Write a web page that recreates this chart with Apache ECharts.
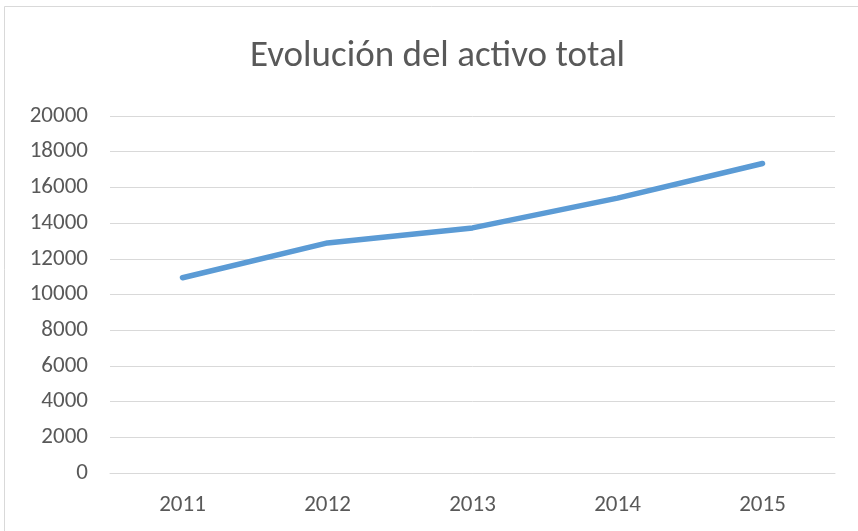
<!DOCTYPE html>
<html>
<head>
<meta charset="utf-8">
<script src="https://cdn.jsdelivr.net/npm/echarts@6/dist/echarts.min.js"></script>
<style>
  html, body { margin: 0; padding: 0; background: #fff; }
  #chart { width: 858px; height: 531px; }
</style>
</head>
<body>
<div id="chart"></div>
<script>
const years = ['2011', '2012', '2013', '2014', '2015']
const activoTotal = [10940, 12890, 13730, 15400, 17340]
const yMin = 0
const yMax = 20000
const yStep = 2000

const fontFam = "Carlito, 'Liberation Sans Narrow', 'Open Sans', sans-serif"

const chart = echarts.init(document.getElementById('chart'))
chart.setOption({
  animation: false,
  backgroundColor: '#fff',
  graphic: [{
    type: 'rect',
    shape: { x: 4.5, y: 6.5, width: 900, height: 600 },
    style: { fill: 'none', stroke: '#d9d9d9', lineWidth: 1 },
    silent: true
  }],
  title: {
    text: 'Evolución del activo total',
    left: 250,
    top: 38,
    padding: 0,
    textStyle: {
      color: '#595959',
      fontFamily: fontFam,
      fontSize: 37,
      fontWeight: 'normal'
    }
  },
  grid: { left: 110, right: 23, top: 116, bottom: 58 },
  xAxis: {
    type: 'category',
    data: years,
    boundaryGap: true,
    axisLine: { show: true, lineStyle: { color: '#d9d9d9', width: 1 } },
    axisTick: { show: false },
    axisLabel: { color: '#595959', fontFamily: fontFam, fontSize: 23, margin: 21 }
  },
  yAxis: {
    type: 'value',
    min: yMin,
    max: yMax,
    interval: yStep,
    axisLine: { show: false },
    axisTick: { show: false },
    splitLine: { lineStyle: { color: '#d9d9d9', width: 1 } },
    axisLabel: {
      color: '#595959', fontFamily: fontFam, fontSize: 23, margin: 22,
      formatter: function (v) { return String(v) }
    }
  },
  series: [{
    type: 'line',
    data: activoTotal,
    symbol: 'none',
    lineStyle: { color: '#5b9bd5', width: 5.5, cap: 'round', join: 'round' }
  }]
})
</script>
</body>
</html>
